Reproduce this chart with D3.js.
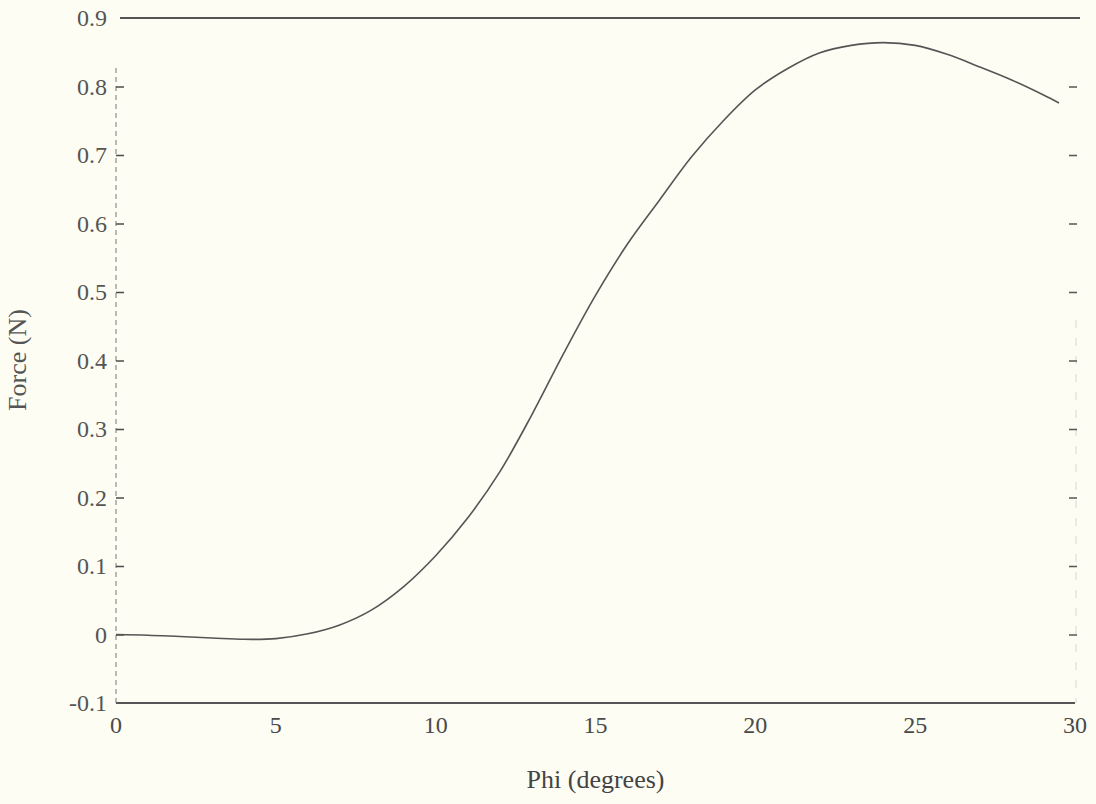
<!DOCTYPE html>
<html>
<head>
<meta charset="utf-8">
<script src="https://cdn.jsdelivr.net/npm/d3@7"></script>
<style>
  html, body { margin: 0; padding: 0; background: #fdfdf4; }
  svg { display: block; }
</style>
</head>
<body>
<svg id="chart" width="1096" height="804"></svg>
<script>
// Data
const phi = [0, 1, 2, 3, 4, 5, 6, 7, 8, 9, 10, 11, 12, 13, 14, 15, 16, 17, 18, 19, 20, 21, 22, 23, 24, 25, 26, 27, 28, 29, 29.5];
const force = [0, -0.001, -0.003, -0.005, -0.007, -0.006, 0.001, 0.014, 0.036, 0.07, 0.115, 0.17, 0.237, 0.32, 0.41, 0.495, 0.57, 0.634, 0.697, 0.75, 0.795, 0.826, 0.849, 0.86, 0.864, 0.86, 0.847, 0.829, 0.81, 0.788, 0.776];
const xTicks = [0, 5, 10, 15, 20, 25, 30];
const yTicks = [-0.1, 0, 0.1, 0.2, 0.3, 0.4, 0.5, 0.6, 0.7, 0.8, 0.9];
const yTickLabels = ["-0.1", "0", "0.1", "0.2", "0.3", "0.4", "0.5", "0.6", "0.7", "0.8", "0.9"];
const xLabel = "Phi (degrees)";
const yLabel = "Force (N)";

const svg = d3.select("#chart");
const mLeft = 116, mRight = 1075, mTop = 18, mBottom = 703;

const x = d3.scaleLinear().domain([0, 30]).range([mLeft, mRight]);
const y = d3.scaleLinear().domain([-0.1, 0.9]).range([mBottom, mTop]);

const ink = "#4a4a4a";
const font = "'Liberation Serif', 'Times New Roman', serif";

// Frame: top and bottom solid, left dashed (faint scan), right very faint
svg.append("line").attr("x1", mLeft + 4).attr("x2", mRight + 5).attr("y1", mTop).attr("y2", mTop)
  .attr("stroke", "#555").attr("stroke-width", 2);
svg.append("line").attr("x1", mLeft).attr("x2", mRight).attr("y1", mBottom).attr("y2", mBottom)
  .attr("stroke", "#555").attr("stroke-width", 2);
svg.append("line").attr("x1", mLeft).attr("x2", mLeft).attr("y1", mTop + 50).attr("y2", mBottom)
  .attr("stroke", "#777").attr("stroke-width", 1).attr("stroke-dasharray", "5,4");
svg.append("line").attr("x1", mRight + 1).attr("x2", mRight + 1).attr("y1", 320).attr("y2", mBottom)
  .attr("stroke", "#d8d8d0").attr("stroke-width", 1).attr("stroke-dasharray", "8,10");

// Left axis ticks and labels
const yAxisL = d3.axisRight(y).tickValues(yTicks).tickSize(8).tickFormat("");
const gL = svg.append("g").attr("transform", `translate(${mLeft},0)`).call(yAxisL);
gL.select(".domain").remove();
gL.selectAll(".tick line").attr("stroke", ink).attr("stroke-width", 1.5);
gL.selectAll(".tick").filter(d => d === -0.1 || d === 0.9).select("line").remove();

svg.append("g").selectAll("text").data(yTicks).join("text")
  .attr("x", mLeft - 9).attr("y", d => y(d))
  .attr("dy", "0.35em").attr("text-anchor", "end")
  .attr("font-family", font).attr("font-size", 24).attr("fill", "#555")
  .text((d, i) => yTickLabels[i]);

// Right axis ticks
const yAxisR = d3.axisLeft(y).tickValues(yTicks.filter(d => d > -0.1 && d < 0.9)).tickSize(8).tickFormat("");
const gR = svg.append("g").attr("transform", `translate(${mRight + 2},0)`).call(yAxisR);
gR.select(".domain").remove();
gR.selectAll(".tick line").attr("stroke", "#555").attr("stroke-width", 1.5);

// Bottom tick labels
svg.append("g").selectAll("text").data(xTicks).join("text")
  .attr("x", d => x(d)).attr("y", mBottom + 30)
  .attr("text-anchor", "middle")
  .attr("font-family", font).attr("font-size", 24).attr("fill", "#4a4a4a")
  .text(d => d);

// Axis labels
svg.append("text").attr("x", (mLeft + mRight) / 2).attr("y", 788)
  .attr("text-anchor", "middle")
  .attr("font-family", font).attr("font-size", 26).attr("fill", "#444")
  .text(xLabel);
svg.append("text")
  .attr("transform", `translate(26, 360) rotate(-90)`)
  .attr("text-anchor", "middle")
  .attr("font-family", font).attr("font-size", 26).attr("fill", "#555")
  .text(yLabel);

// Curve
const data = phi.map((p, i) => [p, force[i]]);
const line = d3.line().x(d => x(d[0])).y(d => y(d[1])).curve(d3.curveCatmullRom.alpha(0.5));
svg.append("path").datum(data)
  .attr("d", line)
  .attr("fill", "none").attr("stroke", "#555").attr("stroke-width", 1.6);
</script>
</body>
</html>
